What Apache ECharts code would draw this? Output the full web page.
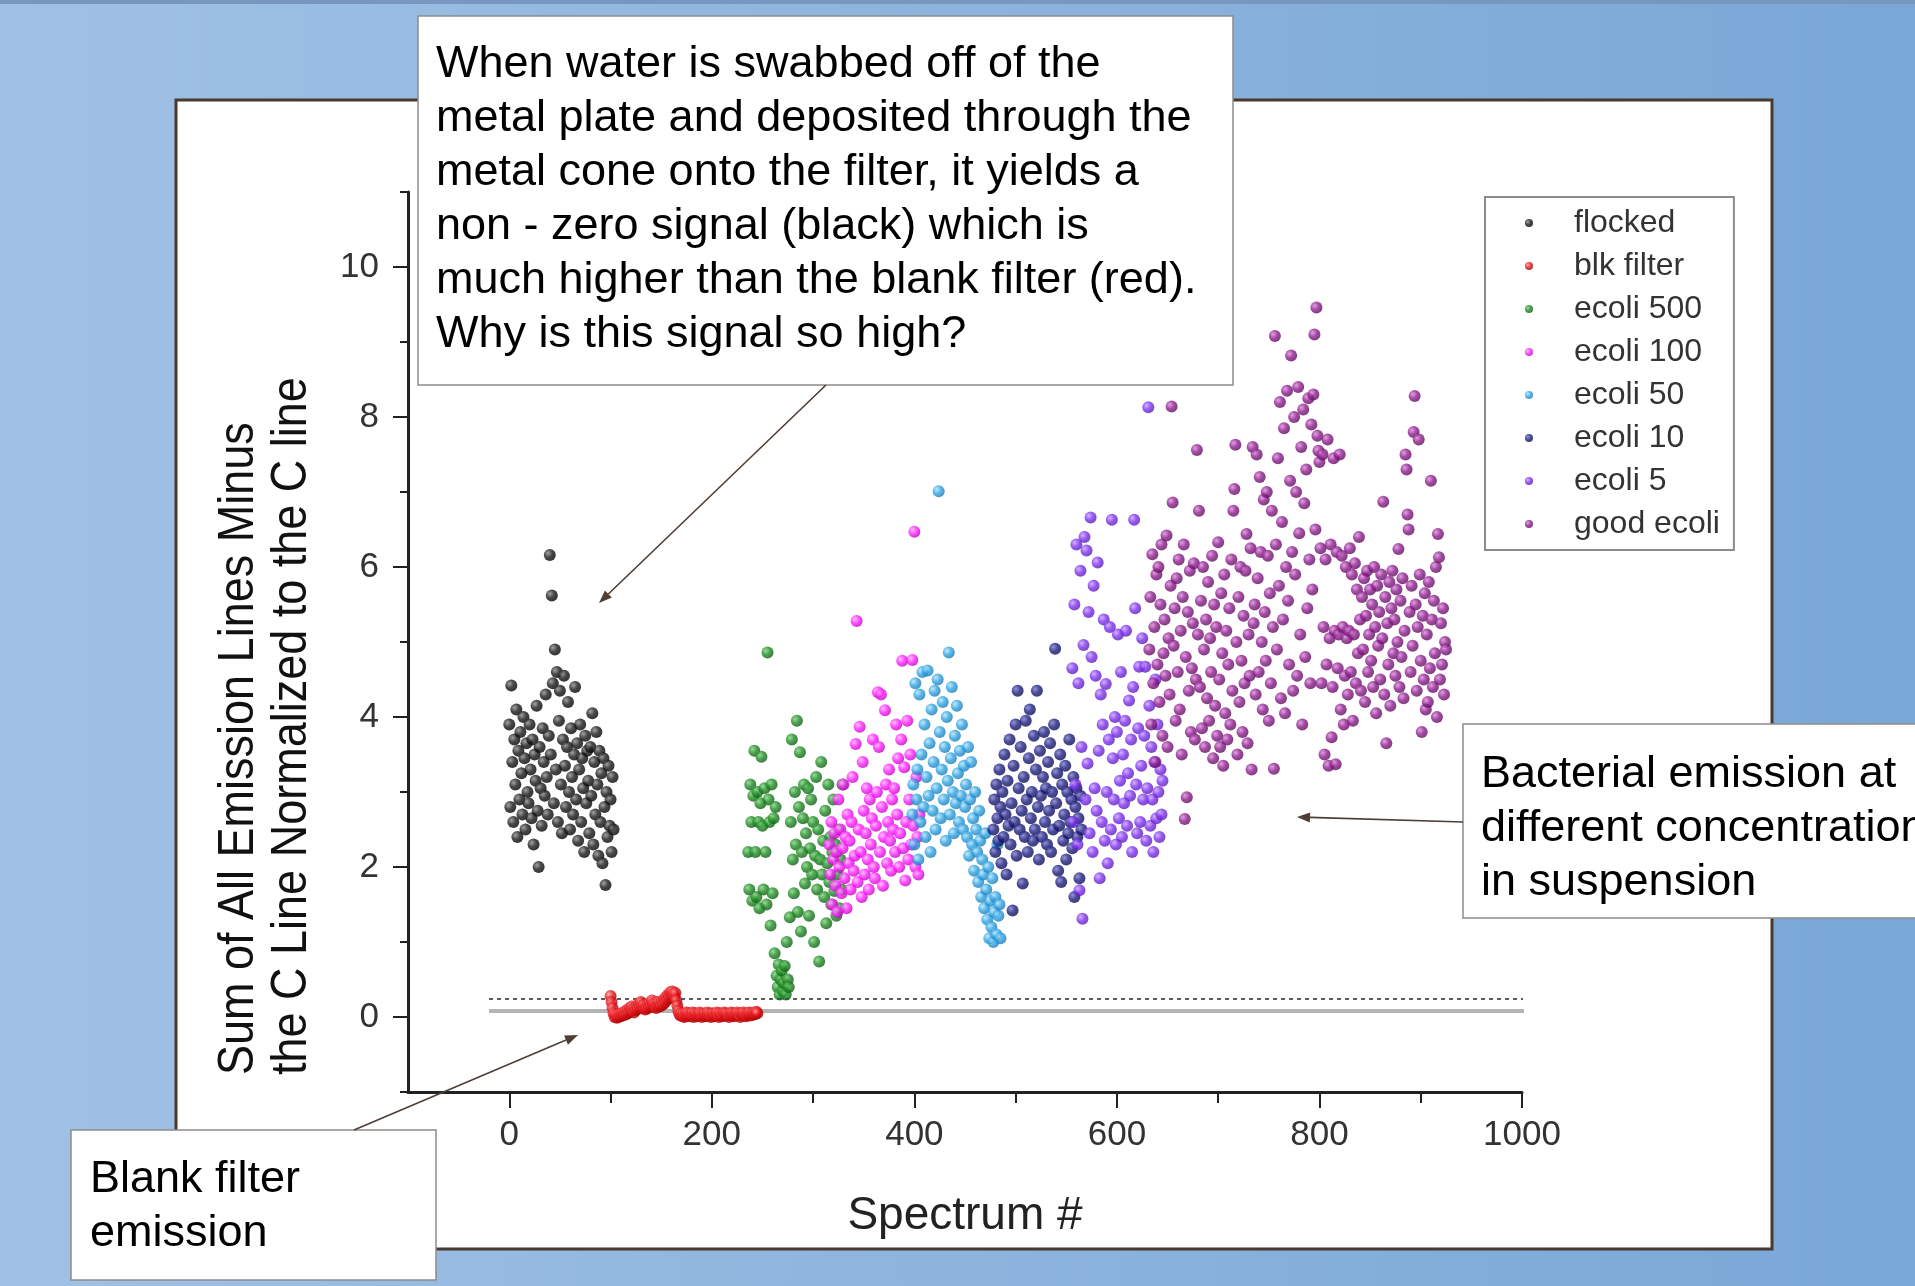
<!DOCTYPE html>
<html>
<head>
<meta charset="utf-8">
<title>Emission lines by spectrum</title>
<script src="https://cdn.jsdelivr.net/npm/echarts@6/dist/echarts.min.js"></script>
<style>
  html, body { margin: 0; padding: 0; }
  #chart { width: 1915px; height: 1286px; }
</style>
</head>
<body>
<div id="chart"></div>
<script>
// ===== data: one value per spectrum, numbered on from each series' first spectrum =====
var flockedStart = 0;
var flockedY = [
  3.9, 2.8, 4.42, 3.4, 2.6, 3.7, 3.1, 4.1, 2.4, 3.55,
  2.9, 3.8, 3.25, 2.7, 4.0, 3.45, 2.5, 3.65, 3.0, 2.85,
  3.9, 3.3, 2.65, 3.7, 2.3, 3.5, 3.15, 4.15, 2.75, 2.0,
  3.6, 3.05, 2.55, 3.85, 3.4, 2.95, 4.3, 3.2, 2.7, 3.75,
  6.16, 3.5, 5.62, 4.45, 2.85, 4.9, 3.3, 4.6, 2.6, 3.95,
  4.35, 3.1, 2.45, 3.7, 4.55, 3.35, 2.8, 3.6, 4.2, 3.0,
  2.5, 3.85, 3.2, 2.7, 3.5, 4.4, 2.9, 3.65, 2.35, 3.3,
  3.9, 2.6, 3.45, 3.05, 2.2, 3.75, 2.85, 3.55, 3.15, 2.45,
  3.6, 2.95, 4.05, 2.3, 3.4, 2.7, 3.8, 3.1, 2.15, 3.55,
  2.6, 3.25, 2.05, 3.45, 2.8, 1.76, 3.0, 2.4, 3.35, 2.55,
  2.9, 2.2, 3.2, 2.5
];

var blkFilterStart = 100;
var blkFilterY = [
  0.28, 0.2, 0.12, 0.05, 0.0, 0.03, -0.01, 0.02, 0.0, 0.04,
  0.01, 0.05, 0.02, 0.06, 0.03, 0.08, 0.04, 0.1, 0.06, 0.12,
  0.08, 0.14, 0.1, 0.06, 0.12, 0.09, 0.15, 0.11, 0.18, 0.13,
  0.2, 0.15, 0.12, 0.16, 0.1, 0.14, 0.11, 0.17, 0.13, 0.19,
  0.15, 0.22, 0.17, 0.14, 0.18, 0.12, 0.16, 0.2, 0.14, 0.18,
  0.15, 0.21, 0.17, 0.24, 0.2, 0.27, 0.23, 0.3, 0.26, 0.33,
  0.29, 0.34, 0.3, 0.27, 0.32, 0.22, 0.15, 0.08, 0.04, 0.02,
  0.05, 0.01, 0.04, 0.0, 0.03, 0.06, 0.02, 0.05, 0.01, 0.04,
  0.02, 0.06, 0.0, 0.03, 0.05, 0.01, 0.04, 0.02, 0.06, 0.03,
  0.0, 0.04, 0.02, 0.05, 0.01, 0.03, 0.06, 0.02, 0.04, 0.0,
  0.03, 0.05, 0.01, 0.04, 0.02, 0.06, 0.03, 0.0, 0.05, 0.02,
  0.04, 0.01, 0.06, 0.03, 0.05, 0.02, 0.04, 0.0, 0.03, 0.06,
  0.02, 0.05, 0.01, 0.04, 0.03, 0.06, 0.02, 0.04, 0.0, 0.05,
  0.03, 0.06, 0.02, 0.04, 0.01, 0.05, 0.03, 0.06, 0.02, 0.04,
  0.05, 0.03, 0.06, 0.04, 0.07, 0.05
];

var ecoli500Start = 236;
var ecoli500Y = [
  2.2, 1.7, 3.1, 2.6, 1.55, 2.95, 3.55, 2.2, 1.6, 3.0,
  2.6, 1.45, 2.85, 3.47, 2.55, 1.7, 3.05, 2.2, 1.5, 4.86,
  2.9, 2.6, 1.22, 3.1, 1.65, 2.65, 0.85, 2.8,
  0.55, 0.4, 0.7, 0.3, 0.5, 0.62, 0.35, 0.45, 0.68, 0.3, 1.0, 0.5, 0.4,
  1.33, 2.6, 3.7, 2.1, 1.65, 3.0, 2.3, 3.95, 1.4, 2.8,
  3.53, 1.14, 2.2, 2.65, 3.1, 1.78, 2.45, 2.0, 3.05, 1.35,
  2.25, 2.9, 1.9, 2.6, 1.0, 2.15, 3.2, 1.7, 2.5, 0.74,
  2.1, 3.4, 1.9, 2.35, 1.6, 2.75, 1.25, 2.05, 3.1, 1.8,
  2.4, 1.5, 2.2, 2.9, 1.68, 2.3, 1.35, 1.9, 2.5, 1.45,
  2.1, 1.7, 3.1
];

var ecoli100Start = 316;
var ecoli100Y = [
  2.3, 1.9, 2.6, 1.5, 2.1, 2.45, 1.75, 2.2, 1.4, 2.9,
  2.0, 2.5, 1.65, 2.25, 3.1, 1.85, 2.4, 1.45, 2.7, 2.05,
  2.35, 1.7, 2.6, 3.2, 1.95, 2.15, 3.64, 5.28, 1.8, 2.5,
  3.87, 2.2, 1.6, 3.4, 2.75, 1.9, 2.45, 3.05, 2.1, 1.7,
  2.9, 2.3, 2.65, 3.7, 2.0, 1.85, 2.55, 3.0, 4.33, 3.6,
  2.2, 4.3, 2.8, 1.75, 2.4, 4.09, 3.1, 2.05, 2.6, 3.3,
  2.35, 1.95, 2.9, 2.5, 3.05, 2.2, 3.9, 2.7, 3.45, 2.0,
  2.45, 3.7, 4.75, 2.25, 3.33, 1.82, 2.6, 3.95, 2.1, 2.9,
  3.5, 2.3, 4.76, 2.55, 6.47, 2.0, 3.2, 2.4, 1.9, 2.7
];

var ecoli50Start = 398;
var ecoli50Y = [
  2.7, 3.1, 2.3, 4.45, 2.9, 3.3, 2.1, 4.3, 2.6, 3.5,
  4.6, 2.8, 3.9, 2.4, 3.2, 4.62, 2.95, 3.65, 2.2, 4.1,
  2.75, 3.4, 4.35, 2.5, 3.05, 4.5, 7.01, 3.8, 2.65, 3.3,
  4.2, 2.9, 3.6, 2.35, 4.0, 3.15, 4.86, 2.7, 3.45, 4.4,
  3.0, 2.45, 3.75, 2.85, 4.15, 3.25, 2.6, 3.55, 2.95, 3.9,
  2.5, 3.35, 2.8, 3.1, 2.4, 3.6, 2.15, 2.9, 3.4, 2.3,
  2.65, 1.95, 3.0, 2.5, 2.2, 1.8, 2.75, 2.35, 1.6, 2.1,
  1.9, 1.45, 2.45, 1.7, 1.3, 2.0, 1.05, 1.55, 1.2, 1.85,
  1.0, 1.4, 1.6, 1.1, 2.3, 1.35, 1.5, 1.05
];

var ecoli10Start = 478;
var ecoli10Y = [
  2.5, 2.9, 2.2, 3.1, 2.65, 2.35, 3.3, 2.8, 2.05, 3.0,
  2.4, 3.5, 2.7, 1.9, 3.15, 2.55, 3.7, 2.3, 2.85, 1.42,
  3.35, 2.6, 3.9, 2.15, 4.35, 3.05, 2.5, 3.6, 2.75, 1.78,
  3.2, 2.4, 3.95, 2.9, 2.2, 3.45, 4.1, 2.65, 3.0, 2.35,
  3.75, 2.5, 3.3, 4.35, 2.8, 2.1, 3.55, 2.95, 2.4, 3.2,
  3.8, 2.6, 3.05, 2.3, 3.4, 2.75, 3.65, 2.2, 3.0, 2.5,
  3.9, 4.91, 2.85, 3.25, 1.95, 2.55, 3.5, 1.8, 3.1, 2.35,
  2.7, 3.35, 2.1, 3.0, 2.45, 3.7, 2.6, 2.9, 2.25, 3.2,
  1.6, 2.8, 3.05, 2.4, 2.65, 1.85, 2.95, 2.5
];

var ecoli5Start = 556;
var ecoli5Y = [
  4.65, 2.6, 5.5, 3.1, 6.3, 2.3, 4.45, 1.69, 5.95, 3.6,
  1.31, 4.96, 6.4, 2.9, 6.22, 3.38, 5.4, 2.45, 6.66, 4.8,
  2.2, 5.75, 3.05, 4.55, 2.75, 6.06, 3.55, 1.85, 4.3, 2.6,
  3.9, 5.3, 2.35, 4.44, 3.0, 2.05, 3.7, 5.2, 2.5, 6.63,
  3.45, 2.9, 4.0, 2.3, 3.8, 5.1, 2.65, 3.15, 4.6, 2.4,
  3.5, 2.85, 3.95, 5.15, 2.55, 3.25, 4.22, 2.95, 3.7, 2.2,
  4.4, 6.63, 5.45, 3.1, 2.45, 3.85, 4.67, 2.6, 3.35, 5.05,
  2.9, 3.75, 4.67, 2.35, 3.05, 8.13, 4.15, 2.55, 3.6, 2.9,
  2.2, 3.4, 4.5, 2.65, 3.9, 3.0, 2.4, 3.3, 2.7, 3.15
];

var goodEcoliStart = 632;
var goodEcoliY = [
  4.9, 5.6, 3.9, 6.17, 4.45, 5.2, 3.4, 5.9, 4.7, 6.0,
  4.2, 5.5, 6.3, 3.75, 4.85, 5.3, 4.55, 6.42, 3.6, 5.05,
  4.3, 5.75, 8.14, 6.86, 4.95, 5.45, 3.95, 5.85, 4.6, 6.1,
  4.1, 5.15, 3.5, 5.6, 6.3, 2.64, 4.8, 2.93, 5.4, 4.35,
  5.95, 3.8, 4.65, 5.25, 6.05, 3.7, 4.5, 7.56, 5.1,
  6.75, 4.4, 5.55, 3.85, 6.0, 4.9, 3.6, 5.3, 4.25, 5.8,
  3.95, 5.05, 4.6, 6.15, 3.45, 5.5, 4.15, 5.2, 3.75, 6.33,
  4.5, 3.6, 5.65, 4.85, 3.35, 5.9, 4.05, 5.15, 3.7, 4.7,
  5.45, 3.9, 6.1, 4.35, 6.75, 7.04, 7.63, 5.0, 3.5, 5.6,
  4.2, 6.0, 4.75, 3.8, 5.35, 4.45, 5.95, 6.44, 3.65, 5.1,
  4.55, 6.25, 3.3, 7.6, 5.25,
  5.5, 4.3, 7.5, 5.85, 4.6, 7.2, 6.2, 5.0, 4.1, 6.9,
  5.4, 4.75, 7.0, 6.15, 3.95, 5.65, 4.45, 6.75, 5.2, 3.31,
  9.08, 6.3, 4.9, 7.45, 5.75, 8.2, 4.25, 6.6, 5.3, 7.85,
  4.05, 6.0, 8.35, 5.55, 4.7, 7.15, 8.82, 6.2, 4.35, 8.0,
  5.9, 7.0, 4.55, 8.4, 6.45, 5.1, 7.6, 3.9, 8.1, 6.85,
  4.8, 7.3, 5.45, 8.25, 6.1, 4.45, 7.9, 5.7, 8.3, 9.1,
  6.5, 9.46, 7.75, 7.55, 7.4,
  6.25, 4.45, 7.5, 5.2, 3.5, 6.1, 4.7, 7.7, 3.35, 5.05,
  6.3, 3.73, 4.4, 7.45, 5.15, 3.37, 6.2, 4.65, 5.1, 7.5,
  4.1, 6.15, 5.2, 3.9, 4.55, 6.0, 5.05, 4.3, 5.15, 6.25,
  4.6, 5.9, 3.95, 5.1, 6.05, 4.45, 5.7, 4.85, 6.4, 5.3,
  4.35, 5.6, 4.9, 5.85, 4.2, 5.35, 5.95, 4.6, 5.1, 5.7,
  4.75, 5.5, 4.4, 6.0, 5.2, 4.05, 5.75, 4.95, 5.4, 4.5,
  5.9, 5.05, 6.87, 4.3, 5.6, 3.65, 5.25, 4.7, 5.8, 4.15,
  5.45, 5.95, 4.85, 5.3, 4.55, 5.7, 5.0, 6.24, 4.4, 5.55,
  4.8, 5.85, 4.25, 5.15, 7.5, 7.3, 6.7, 6.5, 5.4, 4.6,
  5.75, 4.95, 7.8, 8.28, 5.5, 4.35, 5.2, 7.7, 5.9, 4.75,
  3.8, 5.35, 4.5, 5.65, 4.1, 5.1, 4.2, 5.8, 4.65, 7.15,
  5.3, 4.4, 5.55, 4.85, 6.0, 4.0, 6.44, 6.13, 4.5, 5.25,
  4.7, 5.45, 4.3, 5.0, 4.9
];

// blank filter level (solid) and its limit (dotted)
var blankLevelLine = [[-20, 0.08], [1020, 0.08]];
var blankLimitLine = [[-20, 0.24], [1020, 0.24]];

var seriesNames = ['flocked', 'blk filter', 'ecoli 500', 'ecoli 100', 'ecoli 50', 'ecoli 10', 'ecoli 5', 'good ecoli'];
var xMajorTicks = [0, 200, 400, 600, 800, 1000];
var xMinorTicks = [100, 300, 500, 700, 900];
var yMajorTicks = [0, 2, 4, 6, 8, 10];
var yMinorTicks = [-1, 1, 3, 5, 7, 9, 11];

(function () {
  var FONT = '"Liberation Sans", Arial, sans-serif';
  var chart = echarts.init(document.getElementById('chart'));

  function toPoints(start, ys) {
    return ys.map(function (y, i) { return [start + i, y]; });
  }

  // shaded ball, lighter spot up-left
  function ball(light, base, dark) {
    return new echarts.graphic.RadialGradient(0.35, 0.35, 0.7, [
      { offset: 0, color: light },
      { offset: 0.5, color: base },
      { offset: 1, color: dark }
    ]);
  }

  var looks = [
    ball('#8a8a8a', '#1a1a1a', '#000000'),
    ball('#ff9a9a', '#e5161c', '#a00000'),
    ball('#7fcf7f', '#1f8c24', '#0d5a10'),
    ball('#ffb0ff', '#ff24ff', '#c000c0'),
    ball('#b5e2fa', '#2fa4e4', '#1a78b0'),
    ball('#7b7bc8', '#1e1e80', '#0c0c50'),
    ball('#c9a0ff', '#7e32ee', '#5a18b8'),
    ball('#d98ad9', '#8e1e8e', '#5c0c5c')
  ];

  var pointSets = [
    toPoints(flockedStart, flockedY),
    toPoints(blkFilterStart, blkFilterY),
    toPoints(ecoli500Start, ecoli500Y),
    toPoints(ecoli100Start, ecoli100Y),
    toPoints(ecoli50Start, ecoli50Y),
    toPoints(ecoli10Start, ecoli10Y),
    toPoints(ecoli5Start, ecoli5Y),
    toPoints(goodEcoliStart, goodEcoliY)
  ];

  var series = [
    {
      type: 'line', data: blankLevelLine, symbol: 'none', silent: true, clip: false, z: 1,
      lineStyle: { color: '#b4b4b4', width: 4 }
    },
    {
      type: 'line', data: blankLimitLine, symbol: 'none', silent: true, clip: false, z: 1,
      lineStyle: { color: '#5a5a5a', width: 2, type: [4, 4] }
    }
  ];
  seriesNames.forEach(function (name, i) {
    series.push({
      name: name, type: 'scatter', data: pointSets[i],
      symbol: 'circle', symbolSize: 12, silent: true, z: 3,
      itemStyle: { color: looks[i] }
    });
  });

  // ----- annotation helpers (slide furniture, not data) -----
  function box(x, y, w, h) {
    return { type: 'rect', z: 100, shape: { x: x, y: y, width: w, height: h },
      style: { fill: '#ffffff', stroke: '#8c8c8c', lineWidth: 1.5 } };
  }
  function note(x, y, text) {
    return { type: 'text', z: 101, x: x, y: y,
      style: { text: text, font: '45px ' + FONT, fill: '#000', lineHeight: 54, align: 'left', verticalAlign: 'top' } };
  }
  function arrow(x1, y1, x2, y2) {
    var a = Math.atan2(y2 - y1, x2 - x1), L = 13, W = 5;
    var bx = x2 - L * Math.cos(a), by = y2 - L * Math.sin(a);
    return [
      { type: 'line', z: 102, shape: { x1: x1, y1: y1, x2: bx, y2: by },
        style: { stroke: '#4e3e35', lineWidth: 1.6 } },
      { type: 'polygon', z: 102,
        shape: { points: [[x2, y2], [bx + W * Math.sin(a), by - W * Math.cos(a)], [bx - W * Math.sin(a), by + W * Math.cos(a)]] },
        style: { fill: '#4e3e35' } }
    ];
  }

  var graphics = [
    { type: 'rect', z: -10, shape: { x: 0, y: 0, width: 1915, height: 4 }, style: { fill: '#7897be' } },
    { type: 'rect', z: -10, shape: { x: 176, y: 100, width: 1596, height: 1149 },
      style: { fill: '#ffffff', stroke: '#4a392f', lineWidth: 3 } },
    { type: 'text', z: 5, x: 239, y: 1075, rotation: Math.PI / 2, scaleY: 1.12,
      style: { text: 'Sum of All Emission Lines Minus', font: '45px ' + FONT, fill: '#111', align: 'left', verticalAlign: 'middle' } },
    { type: 'text', z: 5, x: 292, y: 1075, rotation: Math.PI / 2, scaleY: 1.12,
      style: { text: 'the C Line Normalized to the C line', font: '45px ' + FONT, fill: '#111', align: 'left', verticalAlign: 'middle' } },
    box(418, 16, 815, 369),
    note(436, 38, 'When water is swabbed off of the\nmetal plate and deposited through the\nmetal cone onto the filter, it yields a\nnon - zero signal (black) which is\nmuch higher than the blank filter (red).\nWhy is this signal so high?'),
    box(1463, 724, 500, 194),
    note(1481, 748, 'Bacterial emission at\ndifferent concentrations\nin suspension'),
    box(71, 1130, 365, 150),
    note(90, 1153, 'Blank filter\nemission')
  ];
  graphics = graphics.concat(arrow(826, 385, 599, 603), arrow(1463, 822, 1297, 817), arrow(354, 1130, 578, 1035));

  var axisColor = '#222';
  function plain(v) { return String(v); }

  chart.setOption({
    animation: false,
    backgroundColor: new echarts.graphic.LinearGradient(0, 0, 1, 0, [
      { offset: 0, color: '#a0c1e5' },
      { offset: 1, color: '#79a7d6' }
    ]),
    textStyle: { fontFamily: FONT },
    grid: { left: 408, right: 393, top: 192, bottom: 194, containLabel: false },
    legend: {
      data: seriesNames, orient: 'vertical', left: 1485, top: 197,
      padding: [10, 14, 10, 40], itemWidth: 8, itemHeight: 8, itemGap: 11,
      icon: 'circle', selectedMode: false,
      backgroundColor: '#ffffff', borderColor: '#8c8c8c', borderWidth: 2,
      textStyle: { fontFamily: FONT, fontSize: 32, color: '#333', lineHeight: 30, padding: [0, 0, 0, 36] }
    },
    xAxis: [
      {
        type: 'value', min: -100, max: 1000,
        name: 'Spectrum #', nameLocation: 'middle', nameGap: 101,
        nameTextStyle: { fontSize: 46, color: '#222', fontFamily: FONT },
        axisLine: { show: true, onZero: false, lineStyle: { color: axisColor, width: 3 } },
        axisTick: { show: true, length: 16, customValues: xMajorTicks, lineStyle: { color: axisColor, width: 2 } },
        axisLabel: { show: true, customValues: xMajorTicks, formatter: plain, margin: 26, fontSize: 35, color: '#333', fontFamily: FONT },
        splitLine: { show: false }
      },
      {
        type: 'value', min: -100, max: 1000, position: 'bottom', offset: 0,
        axisLine: { show: false, onZero: false },
        axisTick: { show: true, length: 11, customValues: xMinorTicks, lineStyle: { color: axisColor, width: 2 } },
        axisLabel: { show: false },
        splitLine: { show: false }
      }
    ],
    yAxis: [
      {
        type: 'value', min: -1, max: 11,
        axisLine: { show: true, onZero: false, lineStyle: { color: axisColor, width: 3 } },
        axisTick: { show: true, length: 15, customValues: yMajorTicks, lineStyle: { color: axisColor, width: 2 } },
        axisLabel: { show: true, customValues: yMajorTicks, formatter: plain, margin: 29, fontSize: 35, color: '#333', fontFamily: FONT },
        splitLine: { show: false }
      },
      {
        type: 'value', min: -1, max: 11, position: 'left', offset: 0,
        axisLine: { show: false, onZero: false },
        axisTick: { show: true, length: 8, customValues: yMinorTicks, lineStyle: { color: axisColor, width: 2 } },
        axisLabel: { show: false },
        splitLine: { show: false }
      }
    ],
    series: series,
    graphic: { elements: graphics }
  });
})();
</script>
</body>
</html>
